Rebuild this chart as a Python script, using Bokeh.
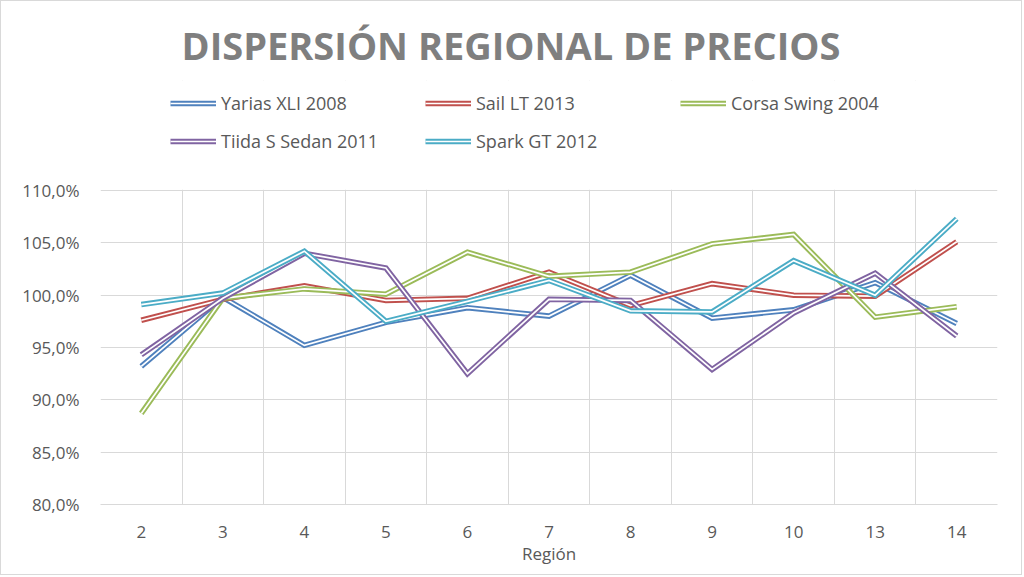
from bokeh.plotting import figure
from bokeh.models import Range1d, FixedTicker, Legend, LegendItem, BoxAnnotation
from bokeh.embed import file_html
from bokeh.resources import INLINE

regions = ["2", "3", "4", "5", "6", "7", "8", "9", "10", "13", "14"]
yarias = [93.2, 99.8, 95.2, 97.4, 98.8, 98.0, 101.9, 97.8, 98.6, 101.2, 97.3]
sail = [97.6, 99.6, 100.9, 99.5, 99.7, 102.2, 99.0, 101.1, 100.0, 99.9, 105.1]
corsa = [88.7, 99.7, 100.6, 100.1, 104.1, 101.8, 102.2, 104.9, 105.8, 97.9, 98.9]
tiida = [94.3, 99.7, 104.0, 102.6, 92.5, 99.6, 99.5, 92.9, 98.3, 102.1, 96.1]
spark = [99.1, 100.2, 104.2, 97.5, 99.4, 101.4, 98.5, 98.4, 103.3, 100.0, 107.3]

series_names = ["Yarias XLI 2008", "Sail LT 2013", "Corsa Swing 2004",
                "Tiida S Sedan 2011", "Spark GT 2012"]
series_values = [yarias, sail, corsa, tiida, spark]
colors = ["#4F81BD", "#C0504D", "#9BBB59", "#8064A2", "#4BACC6"]

y_ticks = [80, 85, 90, 95, 100, 105, 110]
y_labels = ["80,0%", "85,0%", "90,0%", "95,0%", "100,0%", "105,0%", "110,0%"]

FONT = "Open Sans"
GRAY = "#595959"
GRID = "#d9d9d9"

# layout (pixels inside the 1px border): axis area from y=189 (110 %) to
# y=503 (80 %); the frame is extended upward so the legend can sit inside it.
W, H = 1022, 575
Y_MIN, Y_MAX = y_ticks[0], y_ticks[-1]
FRAME_TOP, AXIS_TOP, AXIS_BOTTOM = 79, 189, 503
y_top = Y_MAX + (AXIS_TOP - FRAME_TOP) * (Y_MAX - Y_MIN) / (AXIS_BOTTOM - AXIS_TOP)

x = list(range(len(regions)))

p = figure(width=W, height=H, output_backend="svg", toolbar_location=None,
           x_range=Range1d(-0.5, len(regions) - 0.5), y_range=Range1d(Y_MIN, y_top),
           min_border_left=99, min_border_right=26, min_border_top=FRAME_TOP,
           min_border_bottom=H - AXIS_BOTTOM)
p.styles = {"border": "1px solid #d9d9d9"}
p.outline_line_color = None
p.background_fill_color = "white"
p.border_fill_color = "white"

p.title.text = "DISPERSIÓN REGIONAL DE PRECIOS"
p.title.text_font = FONT
p.title.text_font_size = "38px"
p.title.text_font_style = "bold"
p.title.text_color = "#7f7f7f"
p.title.align = "left"
p.title.offset = 81
p.title.standoff = 19

items = []
for name, vals, col in zip(series_names, series_values, colors):
    r1 = p.line(x, vals, line_color=col, line_width=5.5, line_join="miter")
    r2 = p.line(x, vals, line_color="white", line_width=1.7, line_join="miter")
    items.append(LegendItem(label=name, renderers=[r1, r2]))

# blank out the vertical grid lines above the 110 % line (legend area)
p.add_layout(BoxAnnotation(bottom=Y_MAX + 0.08, fill_color="white", fill_alpha=1,
                           line_color=None, level="annotation"))

legend = Legend(items=items, orientation="horizontal", ncols=3,
                location=(70, 351), glyph_width=46, glyph_height=24,
                label_width=190, label_height=24, label_standoff=5, spacing=14,
                label_text_font=FONT, label_text_font_size="18px",
                label_text_color=GRAY, border_line_color=None,
                background_fill_alpha=0, padding=0, margin=0)
p.add_layout(legend, "center")

# axes
p.xaxis.ticker = FixedTicker(ticks=x)
p.xaxis.major_label_overrides = {i: r for i, r in zip(x, regions)}
p.xaxis.axis_label = "Región"
p.xaxis.axis_line_color = GRID
p.xaxis.major_tick_line_color = None
p.xaxis.minor_tick_line_color = None
p.xaxis.major_label_standoff = 15
p.xaxis.axis_label_standoff = 1
p.xaxis.major_label_text_font = FONT
p.xaxis.major_label_text_font_size = "17px"
p.xaxis.major_label_text_color = GRAY
p.xaxis.axis_label_text_font = FONT
p.xaxis.axis_label_text_font_size = "17px"
p.xaxis.axis_label_text_font_style = "normal"
p.xaxis.axis_label_text_color = GRAY

p.yaxis.ticker = FixedTicker(ticks=y_ticks)
p.yaxis.major_label_overrides = {t: l for t, l in zip(y_ticks, y_labels)}
p.yaxis.axis_line_color = None
p.yaxis.major_tick_line_color = None
p.yaxis.minor_tick_line_color = None
p.yaxis.major_label_standoff = 15
p.yaxis.major_label_text_font = FONT
p.yaxis.major_label_text_font_size = "17px"
p.yaxis.major_label_text_color = GRAY

p.xgrid.ticker = FixedTicker(ticks=[i - 0.5 for i in range(len(regions) + 1)])
p.xgrid.grid_line_color = GRID
p.ygrid.ticker = FixedTicker(ticks=y_ticks)
p.ygrid.grid_line_color = GRID

open("out.html", "w").write(file_html(p, INLINE))
